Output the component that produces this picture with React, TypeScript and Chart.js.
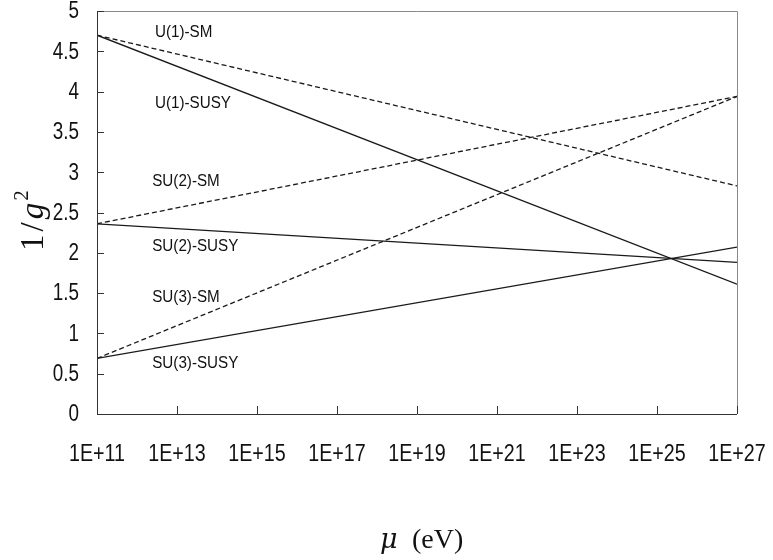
import React, { useEffect, useRef } from "react";
import { Chart, registerables } from "chart.js";

Chart.register(...registerables);

// log10(mu / eV) at the two ends of each line
const exponents = [11, 27];
const xTicks = [11, 13, 15, 17, 19, 21, 23, 25, 27];
const yTicks = [0, 0.5, 1, 1.5, 2, 2.5, 3, 3.5, 4, 4.5, 5];

const u1SM = [4.70, 2.83];
const u1SUSY = [4.70, 1.61];
const su2SM = [2.36, 3.94];
const su2SUSY = [2.36, 1.88];
const su3SM = [0.69, 3.94];
const su3SUSY = [0.69, 2.07];

const seriesNames = ["U(1)-SM", "U(1)-SUSY", "SU(2)-SM", "SU(2)-SUSY", "SU(3)-SM", "SU(3)-SUSY"];
const seriesValues = [u1SM, u1SUSY, su2SM, su2SUSY, su3SM, su3SUSY];
const seriesDashed = [true, false, true, false, true, false];

// label anchors in data coordinates (exponent, value)
const labelX = [12.45, 12.45, 12.38, 12.38, 12.38, 12.38];
const labelY = [4.73, 3.85, 2.88, 2.08, 1.45, 0.62];

const SANS = '"Liberation Sans", Arial, sans-serif';

function squeezedText(ctx: any, text: string, x: number, y: number, align: string, k: number) {
  ctx.save();
  ctx.scale(k, 1);
  ctx.textAlign = align;
  ctx.fillText(text, x / k, y);
  ctx.restore();
}

const decorPlugin = {
  id: "decor",
  afterDatasetsDraw(chart: any) {
    const { ctx, chartArea, scales } = chart;
    const xs = scales.x;
    const ys = scales.y;
    ctx.save();
    // frame
    ctx.lineWidth = 1;
    ctx.strokeStyle = "#888";
    ctx.beginPath();
    ctx.moveTo(chartArea.left, chartArea.top + 0.5);
    ctx.lineTo(chartArea.right + 0.5, chartArea.top + 0.5);
    ctx.lineTo(chartArea.right + 0.5, chartArea.bottom);
    ctx.stroke();
    ctx.strokeStyle = "#333";
    ctx.beginPath();
    ctx.moveTo(chartArea.left + 0.5, chartArea.top);
    ctx.lineTo(chartArea.left + 0.5, chartArea.bottom + 0.5);
    ctx.lineTo(chartArea.right, chartArea.bottom + 0.5);
    ctx.stroke();
    // inward ticks
    ctx.beginPath();
    for (const t of xTicks) {
      const px = Math.round(xs.getPixelForValue(t)) + 0.5;
      ctx.moveTo(px, chartArea.bottom);
      ctx.lineTo(px, chartArea.bottom - 8);
    }
    for (const v of yTicks) {
      const py = Math.round(ys.getPixelForValue(v)) + 0.5;
      ctx.moveTo(chartArea.left, py);
      ctx.lineTo(chartArea.left + 7, py);
    }
    ctx.stroke();
    // tick labels
    ctx.fillStyle = "#111";
    ctx.textBaseline = "middle";
    ctx.font = "24px " + SANS;
    for (const t of xTicks) {
      squeezedText(ctx, "1E+" + t, xs.getPixelForValue(t), chartArea.bottom + 40, "center", 0.82);
    }
    ctx.font = "23px " + SANS;
    for (const v of yTicks) {
      squeezedText(ctx, String(v), chartArea.left - 18, ys.getPixelForValue(v) + 1, "right", 0.82);
    }
    // series labels
    ctx.font = "16px " + SANS;
    seriesNames.forEach((n, i) => {
      squeezedText(ctx, n, xs.getPixelForValue(labelX[i]), ys.getPixelForValue(labelY[i]), "left", 0.95);
    });
    // x title: mu (eV)
    ctx.textAlign = "left";
    ctx.textBaseline = "alphabetic";
    ctx.font = 'italic 27px "DejaVu Serif", "Liberation Serif", serif';
    ctx.fillText("\u03BC", 380, 548);
    ctx.font = '28px "Liberation Serif", "DejaVu Serif", serif';
    ctx.fillText("(eV)", 412, 548);
    // y title: 1/g^2
    ctx.translate(43, 251);
    ctx.rotate(-Math.PI / 2);
    ctx.font = '33px "Liberation Serif", serif';
    ctx.fillText("1", 0, 0);
    let w = ctx.measureText("1").width + 3;
    ctx.fillText("/", w, 0);
    w += ctx.measureText("/").width + 3;
    ctx.font = 'italic 33px "Liberation Serif", serif';
    ctx.fillText("g", w, 0);
    w += ctx.measureText("g").width + 2;
    ctx.font = '21px "Liberation Serif", serif';
    ctx.fillText("2", w, -15);
    ctx.restore();
  },
};

export default function App() {
  const ref = useRef<HTMLCanvasElement>(null);
  useEffect(() => {
    if (!ref.current) return;
    const datasets = seriesNames.map((name, i) => ({
      label: name,
      data: exponents.map((x, j) => ({ x, y: seriesValues[i][j] })),
      borderColor: "#1a1a1a",
      borderWidth: 1.3,
      borderDash: seriesDashed[i] ? [5, 3] : [],
      pointRadius: 0,
      fill: false,
      tension: 0,
    }));
    const chart = new Chart(ref.current, {
      type: "line",
      data: { datasets },
      options: {
        animation: false,
        responsive: false,
        layout: { padding: { left: 0, top: 11, right: 36, bottom: 0 } },
        plugins: { legend: { display: false }, tooltip: { enabled: false } },
        scales: {
          x: {
            type: "linear",
            min: 11,
            max: 27,
            afterBuildTicks: (s: any) => {
              s.ticks = xTicks.map((v) => ({ value: v }));
            },
            afterFit: (s: any) => {
              s.height = 146;
              s.paddingLeft = 0;
              s.paddingRight = 0;
            },
            grid: { display: false, drawTicks: false },
            border: { display: false },
            ticks: { display: false },
          },
          y: {
            min: 0,
            max: 5,
            afterBuildTicks: (s: any) => {
              s.ticks = yTicks.map((v) => ({ value: v }));
            },
            afterFit: (s: any) => {
              s.width = 97;
              s.paddingTop = 0;
              s.paddingBottom = 0;
            },
            grid: { display: false, drawTicks: false },
            border: { display: false },
            ticks: { display: false },
          },
        },
      },
      plugins: [decorPlugin],
    });
    return () => chart.destroy();
  }, []);
  return (
    <div style={{ position: "fixed", left: 0, top: 0, width: 773, height: 560, background: "#fff" }}>
      <canvas ref={ref} width={773} height={560} style={{ width: 773, height: 560 }} />
    </div>
  );
}
